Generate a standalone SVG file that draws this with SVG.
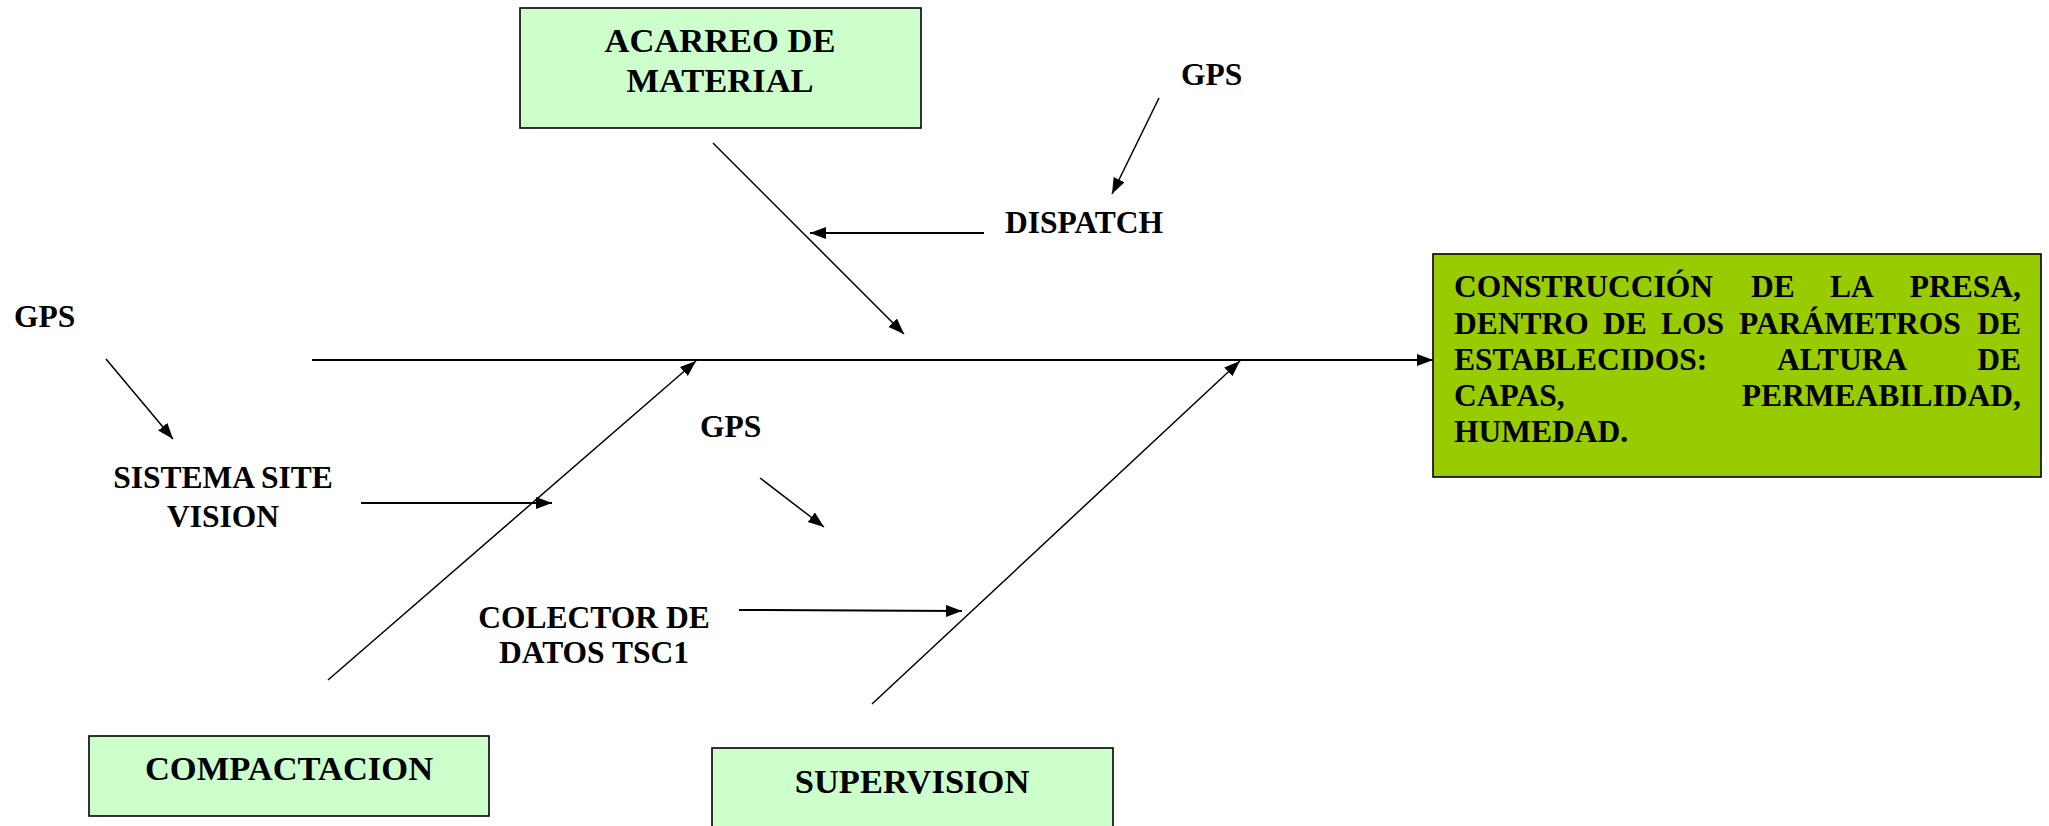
<svg xmlns="http://www.w3.org/2000/svg" width="2049" height="826" viewBox="0 0 2049 826">
<style>
.t{font-family:"Liberation Serif","Times New Roman",serif;font-weight:bold;fill:#000}
.s{font-size:31.5px}
.b{font-size:34.5px}
.m{font-size:31.5px}
.box{fill:#CCFFCC;stroke:#000;stroke-width:1.6}
.main{fill:#99CC00;stroke:#000;stroke-width:1.6}
.ln{stroke:#000;fill:none}
</style>
<defs>
<marker id="ah" markerUnits="userSpaceOnUse" markerWidth="18" markerHeight="14" refX="16" refY="6" orient="auto">
<path d="M0,0 L16,6 L0,12 Z" fill="#000"/>
</marker>
</defs>
<rect width="2049" height="826" fill="#fff"/>
<g id="connectors">
<line class="ln" x1="312" y1="360" x2="1433" y2="360" stroke-width="2" marker-end="url(#ah)"/>
<line class="ln" x1="713" y1="143" x2="904" y2="334" stroke-width="1.5" marker-end="url(#ah)"/>
<line class="ln" x1="328" y1="680" x2="696" y2="361" stroke-width="1.5" marker-end="url(#ah)"/>
<line class="ln" x1="872" y1="704" x2="1240" y2="361" stroke-width="1.5" marker-end="url(#ah)"/>
<line class="ln" x1="1159" y1="98" x2="1112" y2="194" stroke-width="1.5" marker-end="url(#ah)"/>
<line class="ln" x1="984" y1="233" x2="810" y2="233" stroke-width="2" marker-end="url(#ah)"/>
<line class="ln" x1="106" y1="359" x2="173" y2="439" stroke-width="1.5" marker-end="url(#ah)"/>
<line class="ln" x1="361" y1="503" x2="552" y2="503" stroke-width="2" marker-end="url(#ah)"/>
<line class="ln" x1="760" y1="478" x2="824" y2="527" stroke-width="1.5" marker-end="url(#ah)"/>
<line class="ln" x1="739" y1="610" x2="962" y2="611" stroke-width="2" marker-end="url(#ah)"/>
</g>
<g id="acarreo">
<rect class="box" x="520" y="8" width="401" height="120"/>
<text class="t b" x="720" y="52" text-anchor="middle">ACARREO DE</text>
<text class="t b" x="720" y="92" text-anchor="middle">MATERIAL</text>
</g>
<g id="compactacion">
<rect class="box" x="89" y="736" width="400" height="80"/>
<text class="t b" x="289" y="780" text-anchor="middle">COMPACTACION</text>
</g>
<g id="supervision">
<rect class="box" x="712" y="748" width="401" height="90"/>
<text class="t b" x="912" y="793" text-anchor="middle">SUPERVISION</text>
</g>
<g id="efecto">
<rect class="main" x="1433" y="254" width="608" height="223"/>
<text class="t m" y="297"><tspan x="1454">CONSTRUCCIÓN</tspan><tspan x="1751">DE</tspan><tspan x="1830">LA</tspan></text>
<text class="t m" x="2021" y="297" text-anchor="end">PRESA,</text>
<text class="t m" y="333.5"><tspan x="1454">DENTRO</tspan><tspan x="1603">DE</tspan><tspan x="1661">LOS</tspan><tspan x="1739">PARÁMETROS</tspan></text>
<text class="t m" x="2021" y="333.5" text-anchor="end">DE</text>
<text class="t m" y="370"><tspan x="1454">ESTABLECIDOS:</tspan><tspan x="1777">ALTURA</tspan></text>
<text class="t m" x="2021" y="370" text-anchor="end">DE</text>
<text class="t m" x="1454" y="406">CAPAS,</text>
<text class="t m" x="2021" y="406" text-anchor="end">PERMEABILIDAD,</text>
<text class="t m" x="1454" y="442">HUMEDAD.</text>
</g>
<g id="gps-top"><text class="t s" x="1181" y="85">GPS</text></g>
<g id="dispatch"><text class="t s" x="1005" y="233">DISPATCH</text></g>
<g id="gps-left"><text class="t s" x="14" y="327">GPS</text></g>
<g id="sistema">
<text class="t s" x="223" y="488" text-anchor="middle">SISTEMA SITE</text>
<text class="t s" x="223" y="527" text-anchor="middle">VISION</text>
</g>
<g id="gps-mid"><text class="t s" x="700" y="437">GPS</text></g>
<g id="colector">
<text class="t s" x="594" y="628" text-anchor="middle">COLECTOR DE</text>
<text class="t s" x="594" y="663" text-anchor="middle">DATOS TSC1</text>
</g>
</svg>
